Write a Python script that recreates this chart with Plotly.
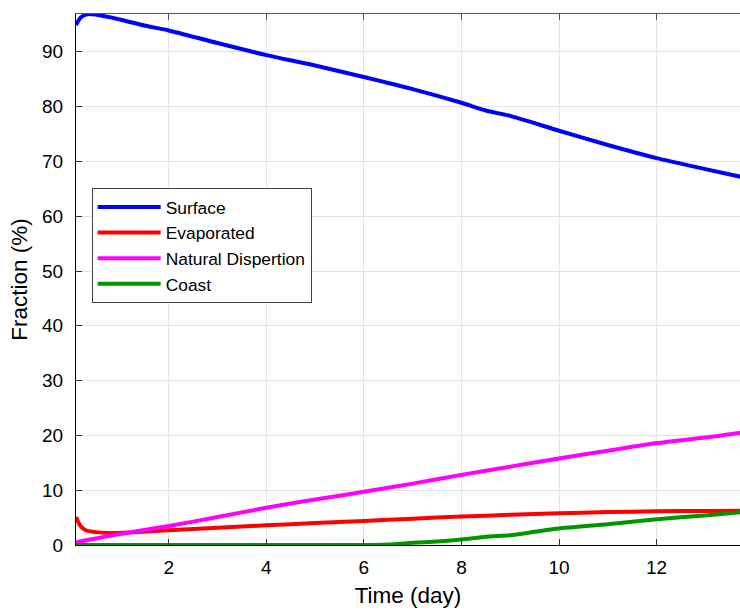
import plotly.graph_objects as go

# Oil fate fractions over time
t_surface = [0.1, 0.2, 0.35, 0.5, 1.0, 1.5, 2, 3, 4, 5, 6, 7, 8, 8.5, 9, 10, 11, 12, 13, 13.72]
surface = [94.9, 96.3, 96.9, 96.8, 95.9, 94.8, 93.9, 91.6, 89.4, 87.5, 85.4, 83.2, 80.7, 79.3, 78.3, 75.6, 73.0, 70.6, 68.6, 67.2]

t_evap = [0.1, 0.15, 0.2, 0.3, 0.5, 0.8, 1.2, 2, 3, 4, 5, 6, 7, 8, 9, 10, 11, 12, 13, 13.72]
evaporated = [5.1, 4.1, 3.4, 2.7, 2.35, 2.2, 2.3, 2.7, 3.15, 3.6, 4.0, 4.4, 4.8, 5.2, 5.5, 5.8, 6.0, 6.15, 6.22, 6.27]

t_disp = [0.1, 1, 2, 3, 4, 5, 6, 7, 8, 9, 10, 11, 12, 13, 13.72]
dispersion = [0.5, 2.0, 3.45, 5.1, 6.8, 8.3, 9.7, 11.2, 12.8, 14.3, 15.8, 17.2, 18.6, 19.6, 20.5]

t_coast = [0.1, 2, 4, 6, 6.5, 7, 7.5, 8, 8.5, 9, 9.5, 10, 11, 12, 13, 13.72]
coast = [0, 0, 0, 0, 0.1, 0.4, 0.65, 1.0, 1.5, 1.8, 2.4, 3.0, 3.8, 4.7, 5.4, 6.0]

x_ticks = [2, 4, 6, 8, 10, 12]
y_ticks = [0, 10, 20, 30, 40, 50, 60, 70, 80, 90]
x_range = [0.1, 13.71]
y_range = [0, 96.9]

series = [
    ("Surface", t_surface, surface, "#0000ff"),
    ("Evaporated", t_evap, evaporated, "#ff0000"),
    ("Natural Dispertion", t_disp, dispersion, "#ff00ff"),
    ("Coast", t_coast, coast, "#009600"),
]

fig = go.Figure()
for name, t, v, color in series:
    fig.add_trace(go.Scatter(x=t, y=v, name=name, mode="lines",
                             line=dict(color=color, width=4, shape="spline", smoothing=0.6)))

# invisible helper trace so the top axis (box edge with inward ticks) is drawn
fig.add_trace(go.Scatter(x=x_range, y=y_range, xaxis="x2", mode="lines",
                         line=dict(width=0), showlegend=False, hoverinfo="skip"))

font_family = "Liberation Sans, Arial, Helvetica, sans-serif"

fig.update_layout(
    width=740, height=611,
    margin=dict(l=76, r=0, t=14, b=66),
    paper_bgcolor="white", plot_bgcolor="white",
    font=dict(family=font_family, size=19, color="black"),
    showlegend=True,
    legend=dict(
        x=0.0236, y=0.672, xanchor="left", yanchor="top",
        bgcolor="white", bordercolor="#404040", borderwidth=1,
        font=dict(size=17.4, color="black"),
        itemwidth=63,
    ),
    xaxis=dict(
        range=x_range, tickvals=x_ticks,
        showgrid=True, gridcolor="#e3e3e3", gridwidth=1,
        showline=True, linecolor="black", linewidth=1.3,
        ticks="inside", ticklen=6, tickcolor="#333333",
        zeroline=False, ticklabelstandoff=5,
        title=dict(text="Time (day)", font=dict(size=22.5), standoff=10),
        tickfont=dict(size=19),
    ),
    xaxis2=dict(
        range=x_range, tickvals=x_ticks, overlaying="x", side="top",
        showgrid=False, showline=True, linecolor="#555555", linewidth=1.3,
        ticks="inside", ticklen=6, tickcolor="#555555",
        showticklabels=False, zeroline=False,
    ),
    yaxis=dict(
        range=y_range, tickvals=y_ticks,
        showgrid=True, gridcolor="#e3e3e3", gridwidth=1,
        showline=True, linecolor="black", linewidth=1.3,
        ticks="inside", ticklen=6, tickcolor="#333333",
        zeroline=False, ticklabelstandoff=8,
        title=dict(text="Fraction (%)", font=dict(size=22.5), standoff=8),
        tickfont=dict(size=19),
    ),
)

fig.write_html("out.html")
